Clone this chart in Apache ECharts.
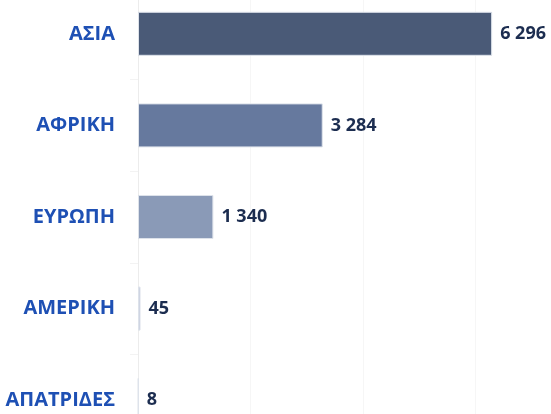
<!DOCTYPE html>
<html>
<head>
<meta charset="utf-8">
<script src="https://cdn.jsdelivr.net/npm/echarts@6/dist/echarts.min.js"></script>
<style>
  html, body { margin: 0; padding: 0; background: #ffffff; }
  #chart { width: 551px; height: 414px; }
</style>
</head>
<body>
<div id="chart"></div>
<script>
const categories = ['ΑΣΙΑ', 'ΑΦΡΙΚΗ', 'ΕΥΡΩΠΗ', 'ΑΜΕΡΙΚΗ', 'ΑΠΑΤΡΙΔΕΣ']
const values = [6296, 3284, 1340, 45, 8]
const barColors = ['#4a5a77', '#66799e', '#8a9ab7', '#c3cbdd', '#dbe1ec']

const chart = echarts.init(document.getElementById('chart'), null, { renderer: 'canvas' })

function fmt(v) {
  return String(v).replace(/\B(?=(\d{3})+(?!\d))/g, ' ')
}

chart.setOption({
  backgroundColor: '#ffffff',
  animation: false,
  grid: {
    left: 138,
    right: -37,
    top: -12,
    bottom: -32,
    containLabel: false,
    outerBoundsMode: 'none'
  },
  xAxis: {
    type: 'value',
    min: 0,
    max: 8000,
    interval: 2000,
    axisLabel: { show: false },
    axisLine: { show: false },
    axisTick: { show: false },
    splitLine: { lineStyle: { color: '#f6f6f6', width: 1 } }
  },
  yAxis: {
    type: 'category',
    inverse: true,
    data: categories,
    axisLine: { lineStyle: { color: '#ececec' } },
    axisTick: { show: true, length: 8, lineStyle: { color: '#f3f3f3' } },
    axisLabel: {
      margin: 23,
      color: '#1e50b4',
      fontFamily: 'Open Sans',
      fontWeight: 'bold',
      fontSize: 20
    }
  },
  series: [{
    type: 'bar',
    barWidth: 44,
    data: values.map((v, i) => ({
      value: v,
      itemStyle: { color: barColors[i] }
    })),
    itemStyle: { borderColor: '#dde2ea', borderWidth: 1 },
    label: {
      show: true,
      position: 'right',
      distance: 8,
      color: '#1c2d50',
      fontFamily: 'Open Sans',
      fontWeight: 'bold',
      fontSize: 18,
      formatter: p => fmt(p.value)
    }
  }]
})
</script>
</body>
</html>
